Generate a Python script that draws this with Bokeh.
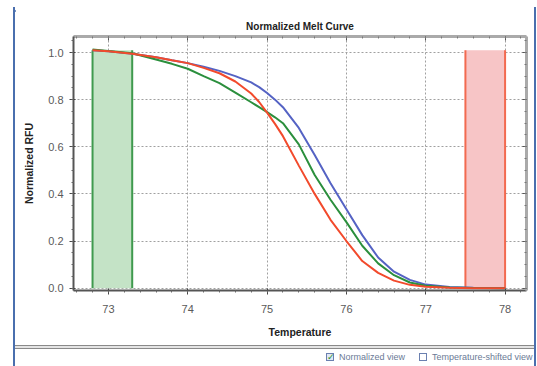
from bokeh.plotting import figure
from bokeh.models import Range1d, LinearAxis, FixedTicker, PrintfTickFormatter, Div
from bokeh.layouts import row, column
from bokeh.embed import file_html
from bokeh.resources import INLINE

# ---- data ----
temps = [72.8, 73.0, 73.3, 73.6, 73.8, 74.0, 74.2, 74.4, 74.6, 74.8, 74.9, 75.0, 75.1, 75.2,
         75.4, 75.6, 75.8, 76.0, 76.2, 76.4, 76.6, 76.8, 77.0, 77.3, 77.6, 78.0]
blue = [1.01, 1.005, 0.995, 0.98, 0.967, 0.955, 0.94, 0.922, 0.90, 0.873, 0.853, 0.828, 0.80, 0.768,
        0.68, 0.565, 0.445, 0.335, 0.225, 0.13, 0.07, 0.035, 0.015, 0.005, 0.002, 0.0]
red = [1.01, 1.005, 0.995, 0.98, 0.967, 0.955, 0.935, 0.912, 0.877, 0.826, 0.79, 0.745, 0.697, 0.645,
       0.52, 0.40, 0.29, 0.20, 0.115, 0.065, 0.032, 0.014, 0.006, 0.002, 0.0, 0.0]
green = [1.013, 1.006, 0.997, 0.97, 0.952, 0.931, 0.90, 0.87, 0.83, 0.789, 0.768, 0.747, 0.725, 0.70,
         0.61, 0.48, 0.375, 0.28, 0.18, 0.105, 0.055, 0.024, 0.01, 0.003, 0.001, 0.0]

band_left = [72.8, 77.5]
band_right = [73.3, 78.0]
band_top = [1.01, 1.01]
band_fill = ["#c4e3c6", "#f7c5c6"]
band_edge = ["#3f9a4e", "#f26a50"]

x_ticks = [73, 74, 75, 76, 77, 78]
y_ticks = [0.0, 0.2, 0.4, 0.6, 0.8, 1.0]
x_minor = [round(72.6 + 0.2 * i, 1) for i in range(29)]
y_minor = [round(0.05 * i, 2) for i in range(22)]

title_text = "Normalized Melt Curve"
x_label = "Temperature"
y_label = "Normalized RFU"
check_labels = ["Normalized view", "Temperature-shifted view"]

BLUE_EDGE = "#4a6fae"

# window geometry: left strip 15, plot 519, right strip 3 ; top strip 9, plot 336, bottom 21
PW, PH = 519, 336
p = figure(width=PW, height=PH, output_backend="svg", toolbar_location=None,
           x_range=Range1d(72.56, 78.27), y_range=Range1d(-0.01, 1.068),
           min_border_left=58, min_border_right=8, min_border_top=27,
           min_border_bottom=55, title=title_text)
p.margin = 0
p.background_fill_color = "white"
p.border_fill_color = "white"
p.outline_line_color = "#bbbbbb"

p.title.align = "center"
p.title.text_font = "Liberation Sans"
p.title.text_font_size = "10px"
p.title.text_font_style = "bold"
p.title.text_color = "#222222"
p.title.offset = -8
p.title.standoff = 9

# bands
p.quad(left=band_left, right=band_right, bottom=[0, 0], top=band_top,
       fill_color=band_fill, line_color=None)
p.segment(x0=band_left, y0=[0, 0], x1=band_left, y1=band_top, line_color=band_edge, line_width=2)
p.segment(x0=band_right, y0=[0, 0], x1=band_right, y1=band_top, line_color=band_edge, line_width=2)

# curves
p.line(temps, blue, line_color="#5563c4", line_width=2)
p.line(temps, green, line_color="#2b8f3d", line_width=2)
p.line(temps, red, line_color="#f24a2c", line_width=2)

# axes
for ax in (p.xaxis[0], p.yaxis[0]):
    ax.axis_line_color = "#555555"
    ax.axis_line_width = 2
    ax.major_tick_line_color = "#444444"
    ax.minor_tick_line_color = "#666666"
    ax.major_tick_out = 4
    ax.major_tick_in = 2
    ax.minor_tick_out = 2
    ax.minor_tick_in = 0
    ax.major_label_text_font = "Liberation Sans"
    ax.major_label_text_font_size = "11px"
    ax.major_label_text_color = "#5a5a5a"
    ax.axis_label_text_font = "Liberation Sans"
    ax.axis_label_text_font_size = "10.5px"
    ax.axis_label_text_font_style = "bold"
    ax.axis_label_text_color = "#222222"

p.xaxis[0].ticker = FixedTicker(ticks=x_ticks, minor_ticks=x_minor)
p.yaxis[0].ticker = FixedTicker(ticks=y_ticks, minor_ticks=y_minor)
p.xaxis[0].axis_label = x_label
p.yaxis[0].axis_label = y_label
p.xaxis[0].major_label_standoff = 10
p.xaxis[0].axis_label_standoff = 10
p.yaxis[0].major_label_standoff = 6
p.yaxis[0].axis_label_standoff = 10
p.yaxis[0].formatter = PrintfTickFormatter(format="%.1f")

top_ax = LinearAxis(ticker=FixedTicker(ticks=x_ticks, minor_ticks=x_minor))
right_ax = LinearAxis(ticker=FixedTicker(ticks=y_ticks, minor_ticks=y_minor))
for ax in (top_ax, right_ax):
    ax.axis_line_color = "#aaaaaa"
    ax.axis_line_width = 3
    ax.major_tick_line_color = "#555555"
    ax.minor_tick_line_color = "#777777"
    ax.major_tick_out = 0
    ax.major_tick_in = 4
    ax.minor_tick_out = 0
    ax.minor_tick_in = 2
    ax.major_label_text_font_size = "0px"
    ax.major_label_text_alpha = 0
    ax.major_label_standoff = 0
p.add_layout(top_ax, "above")
p.add_layout(right_ax, "right")

for g in (p.xgrid[0], p.ygrid[0]):
    g.grid_line_color = "#a0a0a0"
    g.grid_line_dash = "2 2"
    g.grid_line_width = 1
p.xgrid[0].ticker = FixedTicker(ticks=x_ticks)
p.ygrid[0].ticker = FixedTicker(ticks=y_ticks)

# ---- window frame pieces (HTML) ----
left_div = Div(width=15, height=366, margin=0, text=(
    '<div style="position:relative;width:15px;height:366px;background:white">'
    f'<div style="position:absolute;left:13px;top:7px;width:2px;height:359px;background:{BLUE_EDGE}"></div>'
    '</div>'))
right_div = Div(width=3, height=366, margin=0, text=(
    '<div style="position:relative;width:3px;height:366px;background:white">'
    f'<div style="position:absolute;left:0px;top:7px;width:2px;height:359px;background:{BLUE_EDGE}"></div>'
    '</div>'))
top_div = Div(width=PW, height=9, margin=0, text=(
    '<div style="position:relative;width:519px;height:9px;background:white">'
    f'<div style="position:absolute;left:0px;top:7px;width:519px;height:2px;background:{BLUE_EDGE}"></div>'
    '</div>'))
font = "font-family:'Liberation Sans',Arial,sans-serif;font-size:9px;color:#6a7a96;white-space:nowrap;line-height:10px"
bottom_div = Div(width=PW, height=21, margin=0, text=(
    '<div style="position:relative;width:519px;height:21px;background:white;overflow:hidden">'
    '<div style="position:absolute;left:0;top:0px;width:519px;height:1px;background:#8a8a8a"></div>'
    '<div style="position:absolute;left:0;top:1px;width:519px;height:2px;background:#e4e4e4"></div>'
    '<div style="position:absolute;left:0;top:3px;width:519px;height:1px;background:#8a8a8a"></div>'
    '<div style="position:absolute;left:311px;top:8px;width:8px;height:8px;border:1px solid #6b80b0;background:#dfe8f5"></div>'
    '<div style="position:absolute;left:312px;top:6px;font-family:\'DejaVu Sans\';font-size:9px;color:#2a8f2a">&#10003;</div>'
    f'<div style="position:absolute;left:324px;top:7px;{font}">{check_labels[0]}</div>'
    '<div style="position:absolute;left:404px;top:8px;width:8px;height:8px;border:1px solid #6b80b0;background:white"></div>'
    f'<div style="position:absolute;left:417px;top:7px;{font}">{check_labels[1]}</div>'
    '</div>'))

layout = row(left_div, column(top_div, p, bottom_div, spacing=0, margin=0), right_div,
             spacing=0, margin=0)

open("out.html", "w").write(file_html(layout, INLINE))
